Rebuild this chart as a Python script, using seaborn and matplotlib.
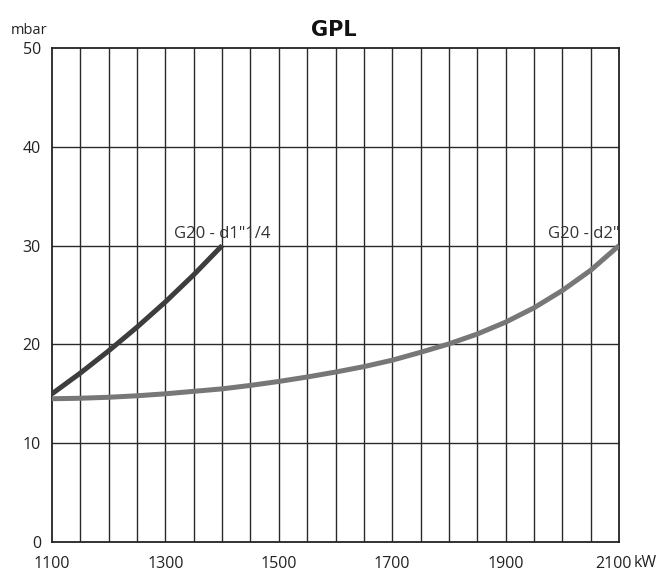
import matplotlib
matplotlib.use("Agg")
import matplotlib.pyplot as plt
import matplotlib.transforms as mtransforms
import seaborn as sns
import pandas as pd
import numpy as np

# Pressure drop curves (mbar) versus burner output (kW)
x_d114 = [1100, 1150, 1200, 1250, 1300, 1350, 1400]
y_d114 = [15.0, 17.1, 19.35, 21.75, 24.3, 27.05, 30.0]

x_d2 = [1100, 1150, 1200, 1250, 1300, 1350, 1400, 1450, 1500, 1550, 1600,
        1650, 1700, 1750, 1800, 1850, 1900, 1950, 2000, 2050, 2100]
y_d2 = [14.5, 14.55, 14.65, 14.8, 15.0, 15.25, 15.5, 15.85, 16.25, 16.7, 17.2,
        17.75, 18.4, 19.2, 20.05, 21.05, 22.25, 23.7, 25.45, 27.5, 30.0]

label_d114 = 'G20 - d1"1/4'
label_d2 = 'G20 - d2"'

x_ticks = [1100, 1300, 1500, 1700, 1900, 2100]
x_ticklabels = ["1100", "1300", "1500", "1700", "1900", "2100"]
y_ticks = [0, 10, 20, 30, 40, 50]

sns.set_style("white")
plt.rcParams["font.family"] = ["Open Sans", "DejaVu Sans"]

fig = plt.figure(figsize=(6.63, 5.72), dpi=100)
ax = fig.add_axes([52 / 663, 1 - 542 / 572, (619 - 52) / 663, (542 - 48) / 572])

df1 = pd.DataFrame({"kW": x_d114, "mbar": y_d114})
df2 = pd.DataFrame({"kW": x_d2, "mbar": y_d2})

# grid: every 50 kW and every 10 mbar
for xv in np.arange(1150, 2100, 50):
    ax.axvline(xv, color="#2a2a2a", lw=1.0, zorder=1)
for yv in [10, 20, 30, 40]:
    ax.axhline(yv, color="#2a2a2a", lw=1.0, zorder=1)

sns.lineplot(data=df2, x="kW", y="mbar", ax=ax, color="#777777", lw=3.6,
             solid_capstyle="butt", solid_joinstyle="round", zorder=3)
sns.lineplot(data=df1, x="kW", y="mbar", ax=ax, color="#3d3d3d", lw=3.6,
             solid_capstyle="butt", solid_joinstyle="round", zorder=4)

ax.set_xlim(1100, 2100)
ax.set_ylim(0, 50)
ax.set_xticks(x_ticks)
ax.set_xticklabels(x_ticklabels)
ax.set_yticks(y_ticks)
ax.set_xlabel("")
ax.set_ylabel("")
ax.tick_params(axis="both", length=0, labelsize=11.5, colors="#222222")
ax.tick_params(axis="x", pad=10)
ax.tick_params(axis="y", pad=8)

# nudge the last x label left to leave room for the unit
last = ax.get_xticklabels()[-1]
last.set_transform(last.get_transform() +
                   mtransforms.ScaledTranslation(-5 / 100, 0, fig.dpi_scale_trans))

for s in ax.spines.values():
    s.set_color("#222222")
    s.set_linewidth(1.3)
    s.set_visible(True)

ax.text(1400, 30.4, label_d114, ha="center", va="bottom", fontsize=12, color="#333333")
ax.text(2100, 30.4, label_d2, ha="right", va="bottom", fontsize=12, color="#333333")

fig.text(634 / 663, 1 - 563 / 572, "kW", ha="left", va="center",
         fontsize=11.5, color="#222222")
fig.text(11 / 663, 1 - 31 / 572, "mbar", ha="left", va="center",
         fontsize=10.5, color="#222222")
fig.text(334 / 663, 1 - 30 / 572, "GPL", ha="center", va="center",
         fontsize=15, fontweight="bold", family="DejaVu Sans", color="#111111")

fig.savefig("out.png", dpi=100)
